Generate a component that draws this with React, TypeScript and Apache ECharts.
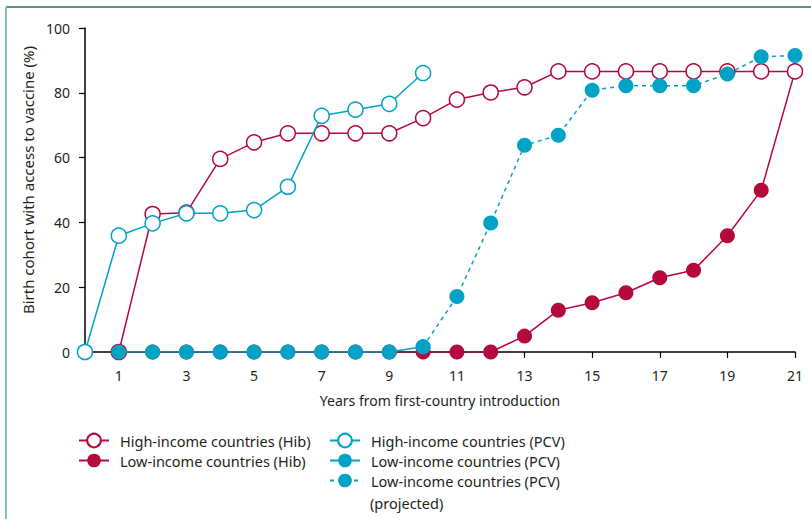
import React, { useEffect, useRef } from "react";
import * as echarts from "echarts";

const years = [0, 1, 2, 3, 4, 5, 6, 7, 8, 9, 10, 11, 12, 13, 14, 15, 16, 17, 18, 19, 20, 21];
const xTickLabels = [1, 3, 5, 7, 9, 11, 13, 15, 17, 19, 21];
const yTicks = [0, 20, 40, 60, 80, 100];

// values aligned with `years`; null = no point
const highHib = [null, 0, 42.6, 43, 59.6, 64.7, 67.5, 67.5, 67.5, 67.5, 72.2, 77.9, 80.1, 81.7, 86.6, 86.6, 86.6, 86.6, 86.6, 86.6, 86.6, 86.6];
const lowHib = [null, 0, 0, 0, 0, 0, 0, 0, 0, 0, 0, 0, 0, 4.9, 12.9, 15.2, 18.3, 22.9, 25.2, 35.9, 49.9, 86.6];
const highPcv = [0, 35.9, 39.7, 42.8, 42.8, 43.8, 51, 72.9, 74.8, 76.6, 86.1, null, null, null, null, null, null, null, null, null, null, null];
const lowPcv = [null, 0, 0, 0, 0, 0, 0, 0, 0, 0, 1.6, null, null, null, null, null, null, null, null, null, null, null];
const lowPcvProjected = [null, null, null, null, null, null, null, null, null, null, 1.6, 17.1, 39.8, 63.8, 66.9, 80.8, 82.2, 82.2, 82.2, 85.8, 91.1, 91.5];

const NAME_HIGH_HIB = "High-income countries (Hib)";
const NAME_LOW_HIB = "Low-income countries (Hib)";
const NAME_HIGH_PCV = "High-income countries (PCV)";
const NAME_LOW_PCV = "Low-income countries (PCV)";
const NAME_LOW_PCV_PROJ = "Low-income countries (PCV) (projected)";

const RED = "#b5083b";
const BLUE = "#00a2c5";
const TEXT = "#231f20";
const FONT = "'Noto Sans', 'Open Sans', sans-serif";

function pairs(values: (number | null)[]) {
  const out: [number, number][] = [];
  values.forEach((v, i) => {
    if (v !== null) out.push([years[i], v]);
  });
  return out;
}

export default function App() {
  const ref = useRef<HTMLDivElement>(null);

  useEffect(() => {
    if (!ref.current) return;
    const chart = echarts.init(ref.current, undefined, { renderer: "svg" });

    const openStyle = (c: string) => ({ color: "#ffffff", borderColor: c, borderWidth: 1.5 });
    const filledStyle = (c: string) => ({ color: c, borderColor: c, borderWidth: 0 });
    const legendText = { fontFamily: FONT, fontSize: 14.5, lineHeight: 17, color: TEXT, padding: [0, 0, 0, 6] };

    chart.setOption({
      animation: false,
      grid: { left: 85, right: 16, top: 28, bottom: 167 },
      xAxis: {
        type: "value",
        min: 0,
        max: 21,
        name: "Years from first-country introduction",
        nameLocation: "middle",
        nameGap: 41,
        nameTextStyle: { fontFamily: FONT, fontSize: 14, color: TEXT },
        axisLine: { onZero: false, lineStyle: { color: "#000", width: 1.5 } },
        axisTick: { show: true, length: 6, customValues: xTickLabels, lineStyle: { color: "#000", width: 1.2 } },
        axisLabel: { customValues: xTickLabels, margin: 16, fontFamily: FONT, fontSize: 14, color: TEXT },
        splitLine: { show: false },
      },
      yAxis: {
        type: "value",
        min: 0,
        max: 100,
        interval: 20,
        name: "Birth cohort with access to vaccine (%)",
        nameLocation: "middle",
        nameGap: 48,
        nameTextStyle: { fontFamily: FONT, fontSize: 15, color: TEXT, padding: [0, 0, 0, 20] },
        axisLine: { show: true, lineStyle: { color: "#000", width: 1.5 } },
        axisTick: { show: true, length: 6, lineStyle: { color: "#000", width: 1.2 } },
        axisLabel: { margin: 15, fontFamily: FONT, fontSize: 14, color: TEXT, customValues: yTicks },
        splitLine: { show: false },
      },
      legend: [
        {
          orient: "vertical",
          left: 73,
          top: 427,
          itemWidth: 30,
          itemHeight: 17,
          itemGap: 3,
          data: [NAME_HIGH_HIB, NAME_LOW_HIB],
          textStyle: legendText,
        },
        {
          orient: "vertical",
          left: 324,
          top: 427,
          itemWidth: 30,
          itemHeight: 17,
          itemGap: 3,
          data: [NAME_HIGH_PCV, NAME_LOW_PCV, NAME_LOW_PCV_PROJ],
          formatter: (name: string) => (name === NAME_LOW_PCV_PROJ ? NAME_LOW_PCV : name),
          textStyle: legendText,
        },
      ],
      graphic: [
        { type: "line", shape: { x1: 6, y1: 7, x2: 811, y2: 7 }, style: { stroke: "#2f6f4c", lineWidth: 1.5 } },
        { type: "line", shape: { x1: 6, y1: 7, x2: 6, y2: 519 }, style: { stroke: "#86c6a5", lineWidth: 2 } },
        {
          type: "text",
          left: 370,
          top: 494,
          style: { text: "(projected)", fontFamily: FONT, fontSize: 14.5, lineHeight: 17, fill: TEXT },
        },
      ],
      series: [
        {
          name: NAME_LOW_HIB,
          type: "line",
          data: pairs(lowHib),
          symbol: "circle",
          symbolSize: 15,
          lineStyle: { color: RED, width: 1.5 },
          itemStyle: filledStyle(RED),
          z: 2,
        },
        {
          name: NAME_HIGH_HIB,
          type: "line",
          data: pairs(highHib),
          symbol: "circle",
          symbolSize: 15,
          lineStyle: { color: RED, width: 1.5 },
          itemStyle: openStyle(RED),
          z: 3,
        },
        {
          name: NAME_HIGH_PCV,
          type: "line",
          data: pairs(highPcv),
          symbol: "circle",
          symbolSize: 15,
          lineStyle: { color: BLUE, width: 1.5 },
          itemStyle: openStyle(BLUE),
          z: 4,
        },
        {
          name: NAME_LOW_PCV,
          type: "line",
          data: pairs(lowPcv),
          symbol: "circle",
          symbolSize: 15,
          lineStyle: { color: BLUE, width: 1.5 },
          itemStyle: filledStyle(BLUE),
          z: 5,
        },
        {
          name: NAME_LOW_PCV_PROJ,
          type: "line",
          data: pairs(lowPcvProjected),
          symbol: "circle",
          symbolSize: 15,
          lineStyle: { color: BLUE, width: 1.5, type: [4, 4] },
          itemStyle: filledStyle(BLUE),
          z: 6,
        },
      ],
    });

    return () => chart.dispose();
  }, []);

  return (
    <div
      ref={ref}
      style={{ position: "fixed", left: 0, top: 0, width: 811, height: 519, background: "#fff" }}
    />
  );
}
